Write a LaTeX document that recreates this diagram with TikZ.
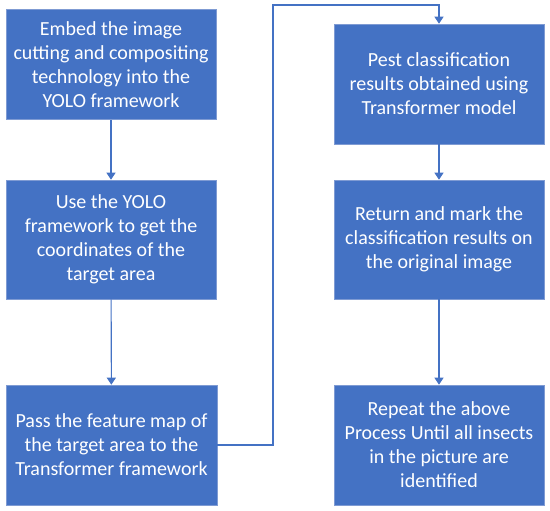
\documentclass[tikz,border=0pt]{standalone}
\usepackage{fontspec}
\setmainfont{Carlito}
\usetikzlibrary{arrows.meta}
\definecolor{boxblue}{HTML}{4472C4}
\definecolor{boxedge}{HTML}{7F9BD3}
\begin{document}
\begin{tikzpicture}[x=1pt,y=-1pt,
  stepbox/.style={rectangle, fill=boxblue, draw=boxedge, line width=0.6pt,
    text=white, align=center, inner sep=0pt,
    font=\fontsize{20}{24}\selectfont},
  conn/.style={draw=boxblue, line width=1.1pt, -{Triangle[width=9pt,length=7pt]}}]
\useasboundingbox (0,0) rectangle (550,511);
\node[stepbox, minimum width=210pt, minimum height=110pt] (b1) at (111,64.5) {Embed the image\\cutting and compositing\\technology into the\\YOLO framework};
\node[stepbox, minimum width=210pt, minimum height=119pt] (b2) at (111,239.5) {Use the YOLO\\framework to get the\\coordinates of the\\target area};
\node[stepbox, minimum width=211pt, minimum height=120pt] (b3) at (111.5,445) {Pass the feature map of\\the target area to the\\Transformer framework};
\node[stepbox, minimum width=210pt, minimum height=120pt] (b4) at (439,84) {Pest classification\\results obtained using\\Transformer model};
\node[stepbox, minimum width=210pt, minimum height=119pt] (b5) at (439,239.5) {Return and mark the\\classification results on\\the original image};
\node[stepbox, minimum width=210pt, minimum height=120pt] (b6) at (439,445) {Repeat the above\\Process Until all insects\\in the picture are\\identified};
\coordinate (c1) at (273,445);
\coordinate (c2) at (273,5);
\coordinate (c3) at (439,5);
\draw[conn] (b1) -- (b2);
\draw[conn] (b2) -- (b3);
\draw[conn] (b4) -- (b5);
\draw[conn] (b5) -- (b6);
\draw[conn] (b3.east) -- (c1) -- (c2) -- (c3) -- (b4.north);
\end{tikzpicture}
\end{document}
